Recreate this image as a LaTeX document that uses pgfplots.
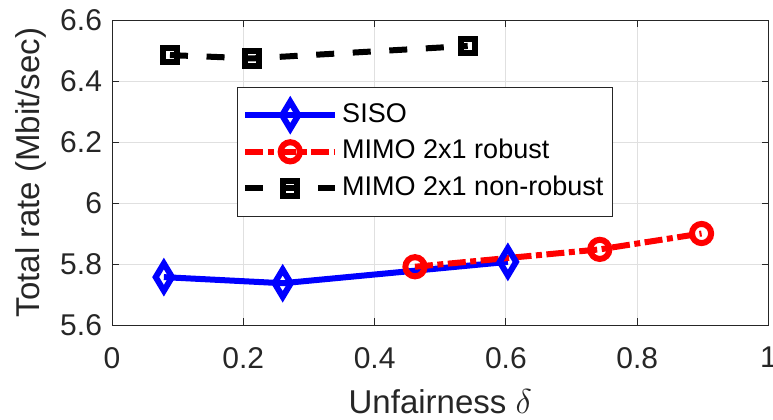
\documentclass[border=0pt]{standalone}
\usepackage{fontspec}
\setmainfont{Liberation Sans}
\usepackage{pgfplots}
\pgfplotsset{compat=1.18}
\definecolor{axgray}{rgb}{0.15,0.15,0.15}
\definecolor{gridgray}{rgb}{0.88,0.88,0.88}
\begin{document}
\begin{tikzpicture}
\begin{axis}[
  scale only axis, width=328.25pt, height=152.5pt,
  xmin=0, xmax=1, ymin=5.6, ymax=6.6,
  xtick={0,0.2,0.4,0.6,0.8,1},
  ytick={5.6,5.8,6,6.2,6.4,6.6},
  grid=major, major grid style={gridgray, line width=0.5pt},
  axis line style={axgray, line width=0.5pt},
  tick style={axgray, line width=0.5pt},
  tick align=inside, major tick length=3.5pt,
  /pgf/number format/assume math mode=true,
  tick label style={font=\fontsize{15}{18}\selectfont, text=axgray},
  xticklabel style={yshift=-7.5pt},
  yticklabel style={xshift=-1.5pt},
  label style={font=\fontsize{16.5}{20}\selectfont, text=axgray},
  xlabel={Unfairness $\delta$},
  ylabel={Total rate (Mbit/sec)},
  xlabel style={at={(axis description cs:0.5,-0.2885)}, anchor=base},
  ylabel style={at={(axis description cs:-0.1097,0.5)}, anchor=base},
  legend style={at={(0.19,0.781)}, anchor=north west, draw=axgray, line width=0.5pt,
    fill=white, font=\fontsize{13.5}{16}\selectfont, text=black,
    inner xsep=2.5pt, inner ysep=4.8pt,
    nodes={text height=10pt, text depth=3pt, inner ysep=2.65pt, inner xsep=2pt},
    /tikz/every even column/.append style={column sep=0pt}},
  legend cell align=left,
  legend image code/.code={\draw[mark repeat=2, mark phase=2] plot coordinates {(0pt,0pt) (22.5pt,0pt) (45pt,0pt)};},
]
\addplot[blue, line width=3pt, mark=diamond, mark size=6.8pt, mark options={solid, xscale=0.8}]
  coordinates {(0.079,5.757) (0.260,5.737) (0.603,5.807)};
\addlegendentry{SISO}
\addplot[red, line width=3pt, dash pattern=on 9pt off 2.25pt on 3pt off 2.25pt, mark=o, mark size=4.8pt, mark options={solid}]
  coordinates {(0.4615,5.791) (0.743,5.848) (0.898,5.900)};
\addlegendentry{MIMO 2x1 robust}
\addplot[black, line width=3pt, dash pattern=on 9pt off 9.3pt, mark=square, mark size=3.6pt, mark options={solid}]
  coordinates {(0.0883,6.485) (0.2137,6.474) (0.5418,6.515)};
\addlegendentry{MIMO 2x1 non-robust}
\end{axis}
\pgfresetboundingbox
\path ([shift={(-56pt,-47pt)}]current axis.south west) rectangle ([shift={(2.25pt,10pt)}]current axis.north east);
\end{tikzpicture}
\end{document}
